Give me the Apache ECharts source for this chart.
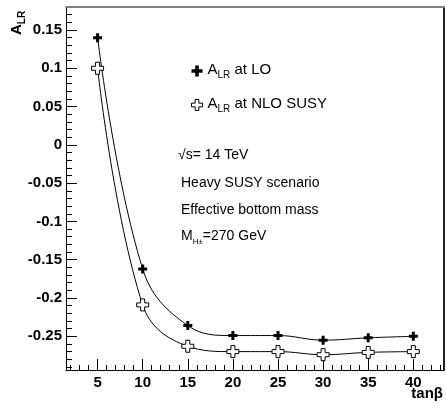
<!DOCTYPE html>
<html lang="en">
<head>
    <meta charset="UTF-8">
    <title>A_LR vs tan beta</title>
    <style>
        html, body { margin: 0; padding: 0; background: #fff; }
        #chart { width: 446px; height: 413px; }
    </style>
</head>
<body>
    <div id="chart"></div>
    <script src="https://cdn.jsdelivr.net/npm/echarts@6/dist/echarts.min.js"></script>
    <script>
        // tan(beta) values
        var tanBeta = [5, 10, 15, 20, 25, 30, 35, 40];
        // A_LR at LO
        var alrLO = [0.140, -0.162, -0.236, -0.249, -0.249, -0.255, -0.252, -0.250];
        // A_LR at NLO SUSY
        var alrNLO = [0.100, -0.209, -0.263, -0.270, -0.270, -0.274, -0.271, -0.270];

        var xMajor = [5, 10, 15, 20, 25, 30, 35, 40];
        var yMajor = [-0.25, -0.2, -0.15, -0.1, -0.05, 0, 0.05, 0.1, 0.15];

        var xMinor = [];
        for (var i = 2; i <= 43; i++) xMinor.push(i);
        var yMinor = [];
        for (var j = -29; j <= 17; j++) yMinor.push(j / 100);

        var X_MIN = 1.5, X_MAX = 43.4;
        var Y_MIN = -0.294, Y_MAX = 0.18;

        var font = 'Liberation Sans, Arial, Helvetica, sans-serif';
        var plusLO = 'path://M3,0H6V3H9V6H6V9H3V6H0V3H3Z';
        var crossNLO = 'path://M4,0H8V4H12V8H8V12H4V8H0V4H4Z';

        function pairs(xs, ys) {
            return xs.map(function (x, k) { return [x, ys[k]]; });
        }

        var chart = echarts.init(document.getElementById('chart'));

        var subRich = {
            a: { fontSize: 15, fontFamily: font, color: '#000', lineHeight: 18, verticalAlign: 'top' },
            s: { fontSize: 10, fontFamily: font, color: '#000', lineHeight: 12, padding: [9, 0, 0, 0], verticalAlign: 'bottom' }
        };

        var option = {
            animation: false,
            grid: { left: 66, right: 2, top: 7, bottom: 43, outerBoundsMode: 'none' },
            xAxis: [{
                type: 'value', position: 'bottom', min: X_MIN, max: X_MAX,
                axisLine: { onZero: false, lineStyle: { color: '#000', width: 1 } },
                axisTick: { inside: true, length: 11, customValues: xMajor, lineStyle: { color: '#000' } },
                axisLabel: {
                    customValues: xMajor, margin: 5, color: '#000',
                    fontFamily: font, fontSize: 15, fontWeight: 'bold'
                },
                splitLine: { show: false }
            }, {
                type: 'value', position: 'bottom', min: X_MIN, max: X_MAX,
                axisLine: { show: false, onZero: false },
                axisTick: { inside: true, length: 5, customValues: xMinor, lineStyle: { color: '#000' } },
                axisLabel: { show: false },
                splitLine: { show: false }
            }, {
                type: 'value', position: 'top', min: X_MIN, max: X_MAX,
                axisLine: { onZero: false, lineStyle: { color: '#808080', width: 2 } },
                axisTick: { show: false },
                axisLabel: { show: false },
                splitLine: { show: false }
            }],
            yAxis: [{
                type: 'value', position: 'left', min: Y_MIN, max: Y_MAX,
                axisLine: { show: true, onZero: false, lineStyle: { color: '#000', width: 1 } },
                axisTick: { show: true, inside: true, length: 11, customValues: yMajor, lineStyle: { color: '#000' } },
                axisLabel: {
                    customValues: yMajor, margin: 4, color: '#000',
                    fontFamily: font, fontSize: 15, fontWeight: 'bold',
                    formatter: function (v) { return String(Number(v.toFixed(2))); }
                },
                splitLine: { show: false }
            }, {
                type: 'value', position: 'left', min: Y_MIN, max: Y_MAX,
                axisLine: { show: false, onZero: false },
                axisTick: { show: true, inside: true, length: 6, customValues: yMinor, lineStyle: { color: '#000' } },
                axisLabel: { show: false },
                splitLine: { show: false }
            }, {
                type: 'value', position: 'right', min: Y_MIN, max: Y_MAX,
                axisLine: { show: true, onZero: false, lineStyle: { color: '#222', width: 2 } },
                axisTick: { show: false },
                axisLabel: { show: false },
                splitLine: { show: false }
            }],
            legend: {
                orient: 'vertical', left: 186, top: 56,
                itemWidth: 11, itemHeight: 11, itemGap: 15,
                data: [
                    { name: 'LO', icon: plusLO, itemStyle: { color: '#000', borderWidth: 0 } },
                    { name: 'NLO', icon: crossNLO, itemStyle: { color: '#fff', borderColor: '#000', borderWidth: 1 } }
                ],
                formatter: function (name) {
                    return name === 'LO' ? '{a|A}{s|LR}{a| at LO}' : '{a|A}{s|LR}{a| at NLO SUSY}';
                },
                textStyle: { rich: subRich }
            },
            graphic: [{
                type: 'text', x: 9, y: 35, rotation: Math.PI / 2,
                style: {
                    text: '{a|A}{s|LR}', align: 'left', verticalAlign: 'top',
                    rich: {
                        a: { fontSize: 15, fontWeight: 'bold', fontFamily: font, lineHeight: 18, verticalAlign: 'top' },
                        s: { fontSize: 10, fontWeight: 'bold', fontFamily: font, lineHeight: 12, padding: [9, 0, 0, 0], verticalAlign: 'bottom' }
                    }
                }
            }, {
                type: 'text', right: 3, top: 386,
                style: { text: 'tanβ', fontSize: 15, fontWeight: 'bold', fontFamily: font, fill: '#000' }
            }, {
                type: 'text', left: 178, top: 148,
                style: { text: '√s= 14 TeV', fontSize: 14, fontFamily: font, fill: '#000' }
            }, {
                type: 'text', left: 181, top: 176,
                style: { text: 'Heavy SUSY scenario', fontSize: 14, fontFamily: font, fill: '#000' }
            }, {
                type: 'text', left: 181, top: 203,
                style: { text: 'Effective bottom mass', fontSize: 14, fontFamily: font, fill: '#000' }
            }, {
                type: 'text', left: 181, top: 229,
                style: {
                    text: '{a|M}{s|H±}{a|=270 GeV}',
                    rich: {
                        a: { fontSize: 14, fontFamily: font, lineHeight: 17, verticalAlign: 'top' },
                        s: { fontSize: 8, fontFamily: font, lineHeight: 10, padding: [9, 0, 0, 0], verticalAlign: 'bottom' }
                    }
                }
            }],
            series: [{
                name: 'LO', type: 'line', xAxisIndex: 0, yAxisIndex: 0,
                data: pairs(tanBeta, alrLO),
                smooth: 0.4,
                symbol: plusLO, symbolSize: 9,
                itemStyle: { color: '#000' },
                lineStyle: { color: '#000', width: 1 },
                z: 3
            }, {
                name: 'NLO', type: 'line', xAxisIndex: 0, yAxisIndex: 0,
                data: pairs(tanBeta, alrNLO),
                smooth: 0.4,
                symbol: crossNLO, symbolSize: 12,
                showAllSymbol: true,
                itemStyle: { color: '#fff', borderColor: '#000', borderWidth: 1 },
                lineStyle: { color: '#000', width: 1 },
                z: 3
            }]
        };

        chart.setOption(option);
    </script>
</body>
</html>
